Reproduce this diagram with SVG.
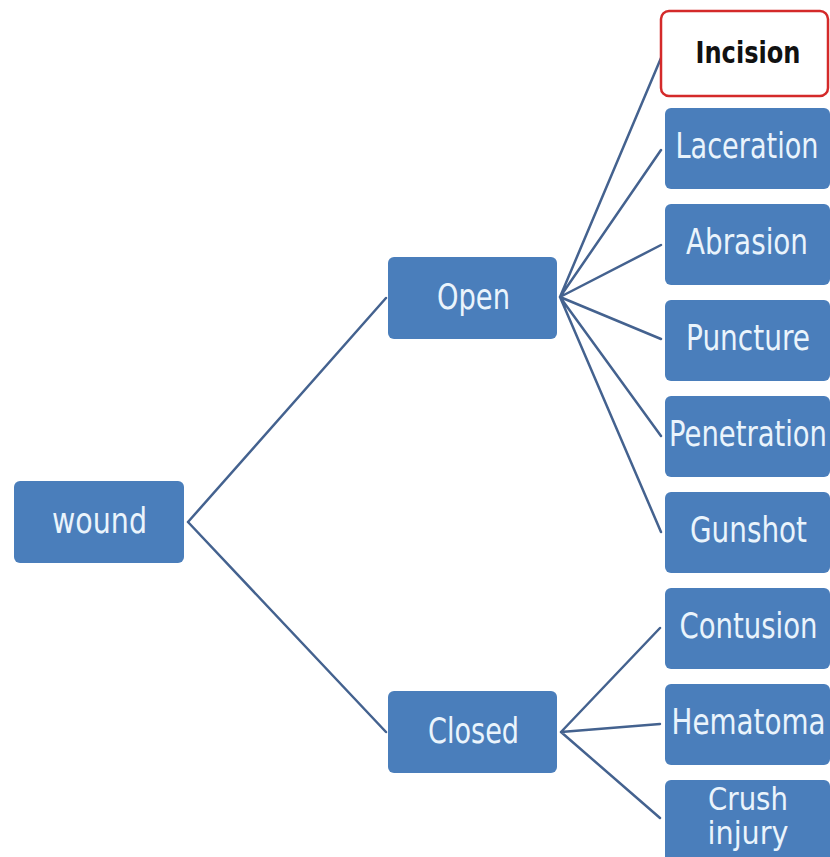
<svg xmlns="http://www.w3.org/2000/svg" width="830" height="857" viewBox="0 0 830 857">
  <style>
    .box { fill: #4a7ebb; }
    .sel { fill: #ffffff; stroke: #d42a2a; stroke-width: 2.5; }
    .lbl { font-family: "DejaVu Sans", "Liberation Sans", sans-serif; font-size: 36px; fill: #eaf4fc; text-anchor: middle; }
    .sm { font-size: 32px; }
    .bold { font-family: "DejaVu Sans", "Liberation Sans", sans-serif; font-size: 31px; font-weight: bold; fill: #111111; text-anchor: middle; }
    .edge { stroke: #44628f; stroke-width: 2.5; fill: none; stroke-linecap: round; }
  </style>
  <rect width="830" height="857" fill="#ffffff"/>

  <!-- connectors -->
  <g id="connectors">
    <path class="edge" d="M188 522 L386 298 M188 522 L386 732"/>
    <path class="edge" d="M560 297 L661 58 M560 297 L661 150 M560 297 L661 245 M560 297 L661 339 M560 297 L661 436 M560 297 L661 532"/>
    <path class="edge" d="M561 732 L660 628 M561 732 L660 724 M561 732 L660 818"/>
  </g>

  <g id="wound">
    <rect class="box" x="14" y="481" width="170" height="82" rx="6"/>
    <text class="lbl" x="99.5" y="533" textLength="95" lengthAdjust="spacingAndGlyphs">wound</text>
  </g>
  <g id="open">
    <rect class="box" x="388" y="257" width="169" height="82" rx="6"/>
    <text class="lbl" x="473.5" y="309" textLength="73" lengthAdjust="spacingAndGlyphs">Open</text>
  </g>
  <g id="closed">
    <rect class="box" x="388" y="691" width="169" height="82" rx="6"/>
    <text class="lbl" x="473.5" y="743" textLength="91" lengthAdjust="spacingAndGlyphs">Closed</text>
  </g>

  <g id="incision">
    <rect class="sel" x="661" y="11" width="167" height="85" rx="8"/>
    <text class="bold" x="748" y="63" textLength="105" lengthAdjust="spacingAndGlyphs">Incision</text>
  </g>
  <g id="laceration">
    <rect class="box" x="665" y="108" width="165" height="81" rx="6"/>
    <text class="lbl" x="747" y="158" textLength="143" lengthAdjust="spacingAndGlyphs">Laceration</text>
  </g>
  <g id="abrasion">
    <rect class="box" x="665" y="204" width="165" height="81" rx="6"/>
    <text class="lbl" x="747" y="254" textLength="122" lengthAdjust="spacingAndGlyphs">Abrasion</text>
  </g>
  <g id="puncture">
    <rect class="box" x="665" y="300" width="165" height="81" rx="6"/>
    <text class="lbl" x="748" y="350" textLength="124" lengthAdjust="spacingAndGlyphs">Puncture</text>
  </g>
  <g id="penetration">
    <rect class="box" x="665" y="396" width="165" height="81" rx="6"/>
    <text class="lbl" x="748" y="446" textLength="158" lengthAdjust="spacingAndGlyphs">Penetration</text>
  </g>
  <g id="gunshot">
    <rect class="box" x="665" y="492" width="165" height="81" rx="6"/>
    <text class="lbl" x="748.5" y="542" textLength="117" lengthAdjust="spacingAndGlyphs">Gunshot</text>
  </g>
  <g id="contusion">
    <rect class="box" x="665" y="588" width="165" height="81" rx="6"/>
    <text class="lbl" x="748.5" y="638" textLength="138" lengthAdjust="spacingAndGlyphs">Contusion</text>
  </g>
  <g id="hematoma">
    <rect class="box" x="665" y="684" width="165" height="81" rx="6"/>
    <text class="lbl" x="748.5" y="734" textLength="154" lengthAdjust="spacingAndGlyphs">Hematoma</text>
  </g>
  <g id="crush">
    <rect class="box" x="665" y="780" width="165" height="90" rx="6"/>
    <text class="lbl sm" x="748" y="810" textLength="80" lengthAdjust="spacingAndGlyphs">Crush</text>
    <text class="lbl sm" x="748" y="844" textLength="81" lengthAdjust="spacingAndGlyphs">injury</text>
  </g>
</svg>
